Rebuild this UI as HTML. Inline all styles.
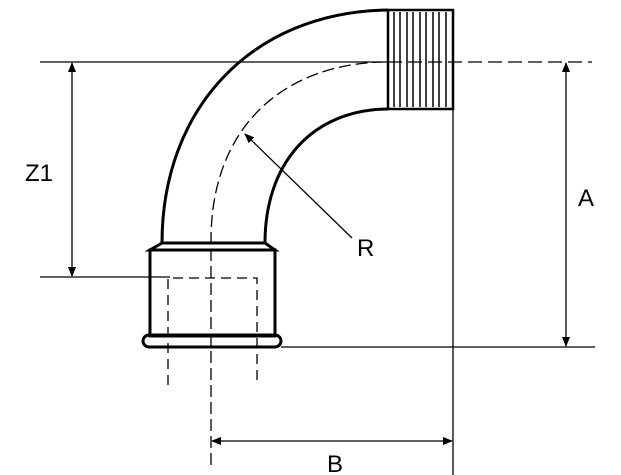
<!DOCTYPE html>
<html><head><style>body{margin:0;background:#fff}svg{display:block}</style></head><body>
<svg width="621" height="475" viewBox="0 0 621 475" xmlns="http://www.w3.org/2000/svg" font-family="Liberation Sans, sans-serif">
<defs><marker id="a" markerWidth="10" markerHeight="8" refX="9" refY="4" orient="auto-start-reverse" markerUnits="userSpaceOnUse"><path d="M0,0 L10,4 L0,8 Z" fill="#000"/></marker></defs>
<g stroke="#000" fill="none">
<path d="M162,243 C162,110 250,12 388,10" stroke-width="3"/>
<path d="M265,243 C265,165 310,110 388,109" stroke-width="3"/>
<line x1="162" y1="243" x2="265" y2="243" stroke-width="3"/>
<rect x="388" y="10" width="65" height="99" stroke-width="2.5"/>
<g stroke-width="1.5">
<path d="M394,12 V107 M400,12 V107 M407,12 V107 M413,12 V107 M420,12 V107 M426,12 V107 M433,12 V107 M439,12 V107 M446,12 V107"/>
</g>
<path d="M162,243 L150,250 L275,250 L265,243" stroke-width="3"/>
<rect x="150" y="250" width="125" height="86" stroke-width="3"/>
<rect x="143" y="335" width="138" height="12" rx="6" stroke-width="3"/>
<path d="M168,385 V278 H257 V385" stroke-width="1.3" stroke-dasharray="10,6"/>
<path d="M211,465 V240 C211,130 280,65 382,62" stroke-width="1.3" stroke-dasharray="12,5"/>
<line x1="40" y1="62" x2="388" y2="62" stroke-width="1.3"/>
<line x1="388" y1="62" x2="592" y2="62" stroke-width="1.3" stroke-dasharray="14,6"/>
<line x1="40" y1="277" x2="170" y2="277" stroke-width="1.3"/>
<line x1="72" y1="63" x2="72" y2="276" stroke-width="1.3" marker-start="url(#a)" marker-end="url(#a)"/>
<line x1="281" y1="347" x2="595" y2="347" stroke-width="1.3"/>
<line x1="566" y1="63" x2="566" y2="346" stroke-width="1.3" marker-start="url(#a)" marker-end="url(#a)"/>
<line x1="453" y1="109" x2="453" y2="475" stroke-width="1.3"/>
<line x1="212" y1="441" x2="452" y2="441" stroke-width="1.3" marker-start="url(#a)" marker-end="url(#a)"/>
<line x1="352" y1="238" x2="245" y2="134" stroke-width="1.3" marker-end="url(#a)"/>
</g>
<g font-size="24" fill="#000">
<text x="25" y="181">Z1</text>
<text x="578" y="206">A</text>
<text x="327" y="472">B</text>
<text x="357" y="256">R</text>
</g>
</svg>
</body></html>
